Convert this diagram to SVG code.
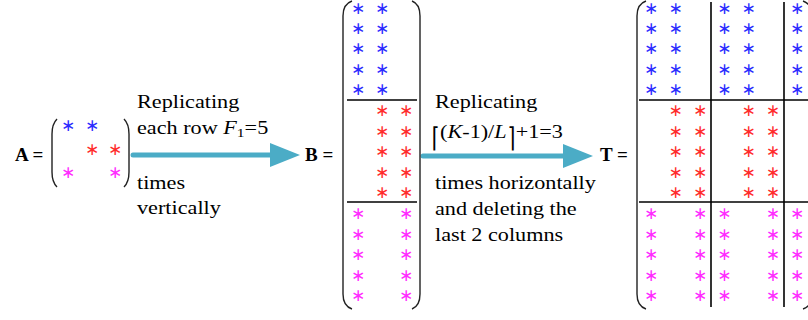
<svg xmlns="http://www.w3.org/2000/svg" width="808" height="320" viewBox="0 0 808 320">
<style>
.lbl{font-family:"Liberation Serif","Times New Roman",serif;font-size:18.5px;fill:#000}
.nm{font-family:"Liberation Serif","Times New Roman",serif;font-size:19px;font-weight:bold;fill:#000}
.st{font-family:"DejaVu Sans",sans-serif;font-size:17px;text-anchor:middle}
.b{fill:#2b2bff}.r{fill:#ff2b2b}.m{fill:#ff2bff}
.br{fill:none;stroke:#222;stroke-width:1.4}
.sep{stroke:#000;stroke-width:1.6}
.arr{stroke:#4bacc6;stroke-width:5;stroke-linecap:round;fill:none}
.ceil{font-family:"DejaVu Sans",sans-serif;font-size:17px}
</style>
<defs>
<marker id="ah" markerUnits="userSpaceOnUse" viewBox="0 0 30 24" markerWidth="30" markerHeight="24" refX="3" refY="12" orient="auto"><path d="M0,0 L30,12 L0,24 z" fill="#4bacc6"/></marker>
</defs>
<g id="connectors">
<line class="arr" x1="133" y1="155" x2="273" y2="155" marker-end="url(#ah)"/>
<line class="arr" x1="423" y1="156" x2="566" y2="156" marker-end="url(#ah)"/>
</g>
<g id="matA">
<text class="nm" x="15" y="161">A =</text>
<path class="br" d="M57,119 Q52,124 52,134 L52,172 Q52,182 57,187"/>
<path class="br" d="M124,119 Q129,124 129,134 L129,172 Q129,182 124,187"/>
<g class="st" transform="translate(0,6)">
<text class="b" x="68 92" y="125">∗∗</text>
<text class="r" x="92 115" y="149">∗∗</text>
<text class="m" x="68 115" y="172">∗∗</text>
</g>
</g>
<g id="label1" class="lbl" transform="scale(1.2 1)">
<text x="114.2" y="108">Replicating</text>
<text x="114.2" y="134">each row <tspan font-style="italic">F</tspan><tspan font-size="13" dy="3">1</tspan><tspan dy="-3">=5</tspan></text>
<text x="114.2" y="189">times</text>
<text x="114.2" y="214">vertically</text>
</g>
<g id="matB">
<text class="nm" x="305" y="161">B =</text>
<path class="br" d="M352,1 Q343,4 343,16 L343,294 Q343,306 352,309"/>
<path class="br" d="M412,1 Q420,4 420,16 L420,294 Q420,306 412,309"/>
<line class="sep" x1="347" y1="100" x2="417" y2="100"/>
<line class="sep" x1="347" y1="202" x2="417" y2="202"/>
<g class="st" transform="translate(0,6)">
<text class="b" x="358 382" y="7.5">∗∗</text>
<text class="b" x="358 382" y="27.6">∗∗</text>
<text class="b" x="358 382" y="48.2">∗∗</text>
<text class="b" x="358 382" y="68.8">∗∗</text>
<text class="b" x="358 382" y="89.4">∗∗</text>
<text class="r" x="382 406" y="110">∗∗</text>
<text class="r" x="382 406" y="130.6">∗∗</text>
<text class="r" x="382 406" y="151.2">∗∗</text>
<text class="r" x="382 406" y="171.8">∗∗</text>
<text class="r" x="382 406" y="192.4">∗∗</text>
<text class="m" x="358 406" y="213">∗∗</text>
<text class="m" x="358 406" y="233.6">∗∗</text>
<text class="m" x="358 406" y="254.2">∗∗</text>
<text class="m" x="358 406" y="274.8">∗∗</text>
<text class="m" x="358 406" y="295.4">∗∗</text>
</g>
</g>
<g id="label2" class="lbl" transform="scale(1.2 1)">
<text x="362.5" y="108">Replicating</text>
<text class="ceil" transform="translate(359.6 146.5) scale(1 1.6)">⌈</text>
<text x="366.7" y="138">(<tspan font-style="italic">K</tspan>-1)/<tspan font-style="italic">L</tspan></text>
<text class="ceil" transform="translate(422.9 146.5) scale(1 1.6)">⌉</text>
<text x="429.8" y="138">+1=3</text>
<text x="362.5" y="189">times horizontally</text>
<text x="362.5" y="215">and deleting the</text>
<text x="362.5" y="241">last 2 columns</text>
</g>
<g id="matT">
<text class="nm" x="600" y="161">T =</text>
<path class="br" d="M646,1 Q637,4 637,16 L637,294 Q637,306 646,309"/>
<path class="br" d="M803,1 Q812,4 812,16 L812,294 Q812,306 803,309"/>
<line class="sep" x1="639" y1="100" x2="808" y2="100"/>
<line class="sep" x1="639" y1="202" x2="808" y2="202"/>
<line class="sep" x1="711" y1="2" x2="711" y2="307"/>
<line class="sep" x1="784" y1="2" x2="784" y2="307"/>
<g class="st" transform="translate(0,6)">
<text class="b" x="651 675.5 724.3 748.6 797" y="7.5">∗∗∗∗∗</text>
<text class="b" x="651 675.5 724.3 748.6 797" y="27.6">∗∗∗∗∗</text>
<text class="b" x="651 675.5 724.3 748.6 797" y="48.2">∗∗∗∗∗</text>
<text class="b" x="651 675.5 724.3 748.6 797" y="68.8">∗∗∗∗∗</text>
<text class="b" x="651 675.5 724.3 748.6 797" y="89.4">∗∗∗∗∗</text>
<text class="r" x="675.5 700 748.6 772.8" y="110">∗∗∗∗</text>
<text class="r" x="675.5 700 748.6 772.8" y="130.6">∗∗∗∗</text>
<text class="r" x="675.5 700 748.6 772.8" y="151.2">∗∗∗∗</text>
<text class="r" x="675.5 700 748.6 772.8" y="171.8">∗∗∗∗</text>
<text class="r" x="675.5 700 748.6 772.8" y="192.4">∗∗∗∗</text>
<text class="m" x="651 700 724.3 772.8 797" y="213">∗∗∗∗∗</text>
<text class="m" x="651 700 724.3 772.8 797" y="233.6">∗∗∗∗∗</text>
<text class="m" x="651 700 724.3 772.8 797" y="254.2">∗∗∗∗∗</text>
<text class="m" x="651 700 724.3 772.8 797" y="274.8">∗∗∗∗∗</text>
<text class="m" x="651 700 724.3 772.8 797" y="295.4">∗∗∗∗∗</text>
</g>
</g>
</svg>
